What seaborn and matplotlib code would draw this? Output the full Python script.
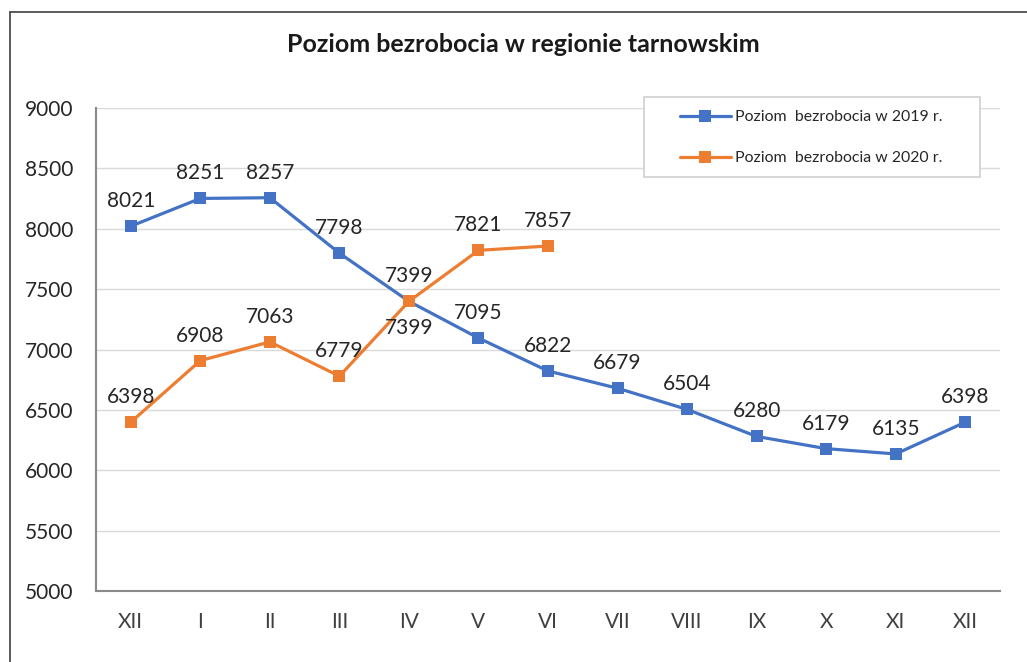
import numpy as np
import pandas as pd
import matplotlib
matplotlib.use('Agg')
import matplotlib.pyplot as plt
from matplotlib.lines import Line2D
from matplotlib.patches import Rectangle
import seaborn as sns

months = ['XII', 'I', 'II', 'III', 'IV', 'V', 'VI', 'VII', 'VIII', 'IX', 'X', 'XI', 'XII']
vals_2019 = [8021, 8251, 8257, 7798, 7399, 7095, 6822, 6679, 6504, 6280, 6179, 6135, 6398]
vals_2020 = [6398, 6908, 7063, 6779, 7399, 7821, 7857]
label_2019 = 'Poziom  bezrobocia w 2019 r.'
label_2020 = 'Poziom  bezrobocia w 2020 r.'

blue = '#4472C4'
orange = '#ED7D31'

sns.set_theme(style='white')
plt.rcParams['font.family'] = ['Lato', 'DejaVu Sans']

df19 = pd.DataFrame({'pos': np.arange(len(vals_2019)), 'val': vals_2019})
df20 = pd.DataFrame({'pos': np.arange(len(vals_2020)), 'val': vals_2020})

fig = plt.figure(figsize=(10.27, 6.62), dpi=100)
ax = fig.add_axes([96/1027, 1 - 591/662, 904/1027, 483/662])

sns.lineplot(data=df19, x='pos', y='val', ax=ax, color=blue, linewidth=2.3,
             marker='s', markersize=9, markeredgewidth=0, label=label_2019)
sns.lineplot(data=df20, x='pos', y='val', ax=ax, color=orange, linewidth=2.3,
             marker='s', markersize=9, markeredgewidth=0, label=label_2020)

# etykiety danych
for i, v in enumerate(vals_2019):
    dy = -19 if i == 4 else 18
    ax.annotate(str(v), (i, v), xytext=(0, dy), textcoords='offset points',
                ha='center', va='center', fontsize=15, color='#262626')
for i, v in enumerate(vals_2020):
    ax.annotate(str(v), (i, v), xytext=(0, 18), textcoords='offset points',
                ha='center', va='center', fontsize=15, color='#262626')

ax.set_xlim(-0.5, len(months) - 0.5)
ax.set_ylim(5000, 9000)
ax.set_yticks(np.arange(5000, 9001, 500))
ax.set_xticks(np.arange(len(months)))
ax.set_xticklabels(months)
ax.set_xticks(np.arange(-0.5, len(months), 1), minor=True)
ax.tick_params(axis='x', which='major', length=0, pad=15, labelsize=15, labelcolor='#404040')
ax.tick_params(axis='x', which='minor', length=6, width=1, color='#898989', direction='out')
ax.tick_params(axis='y', length=6, width=1, color='#898989', direction='out', pad=10,
               labelsize=15, labelcolor='#262626')
ax.yaxis.grid(True, color='#D9D9D9', linewidth=1)
ax.set_axisbelow(True)
ax.set_xlabel('')
ax.set_ylabel('')
for s in ['top', 'right']:
    ax.spines[s].set_visible(False)
for s in ['left', 'bottom']:
    ax.spines[s].set_color('#898989')
    ax.spines[s].set_linewidth(1.5)

# ramka legendy
ax.add_patch(Rectangle((644/1027, 1 - 177/662), 336/1027, 80/662, transform=fig.transFigure,
                       facecolor='white', edgecolor='#D0D0D0', linewidth=1.2,
                       clip_on=False, zorder=4))
leg = ax.legend(loc='upper left', bbox_to_anchor=(680/1027, 1 - 110/662),
                bbox_transform=fig.transFigure, frameon=False,
                fontsize=11.4, handlelength=3.2, labelspacing=1.7, borderpad=0,
                borderaxespad=0, handletextpad=0.3)
leg.set_zorder(6)

fig.text(523/1027, 1 - 45/662, 'Poziom bezrobocia w regionie tarnowskim',
         ha='center', va='center', fontsize=18, fontweight='bold', color='#1a1a1a')

# ramka wykresu
fig.add_artist(Line2D([10/1027, 10/1027], [0, 1 - 12/662], transform=fig.transFigure,
                      color='#404040', linewidth=1.2))
fig.add_artist(Line2D([10/1027, 1], [1 - 12/662, 1 - 12/662], transform=fig.transFigure,
                      color='#404040', linewidth=1.2))

fig.savefig('out.png', dpi=100)
